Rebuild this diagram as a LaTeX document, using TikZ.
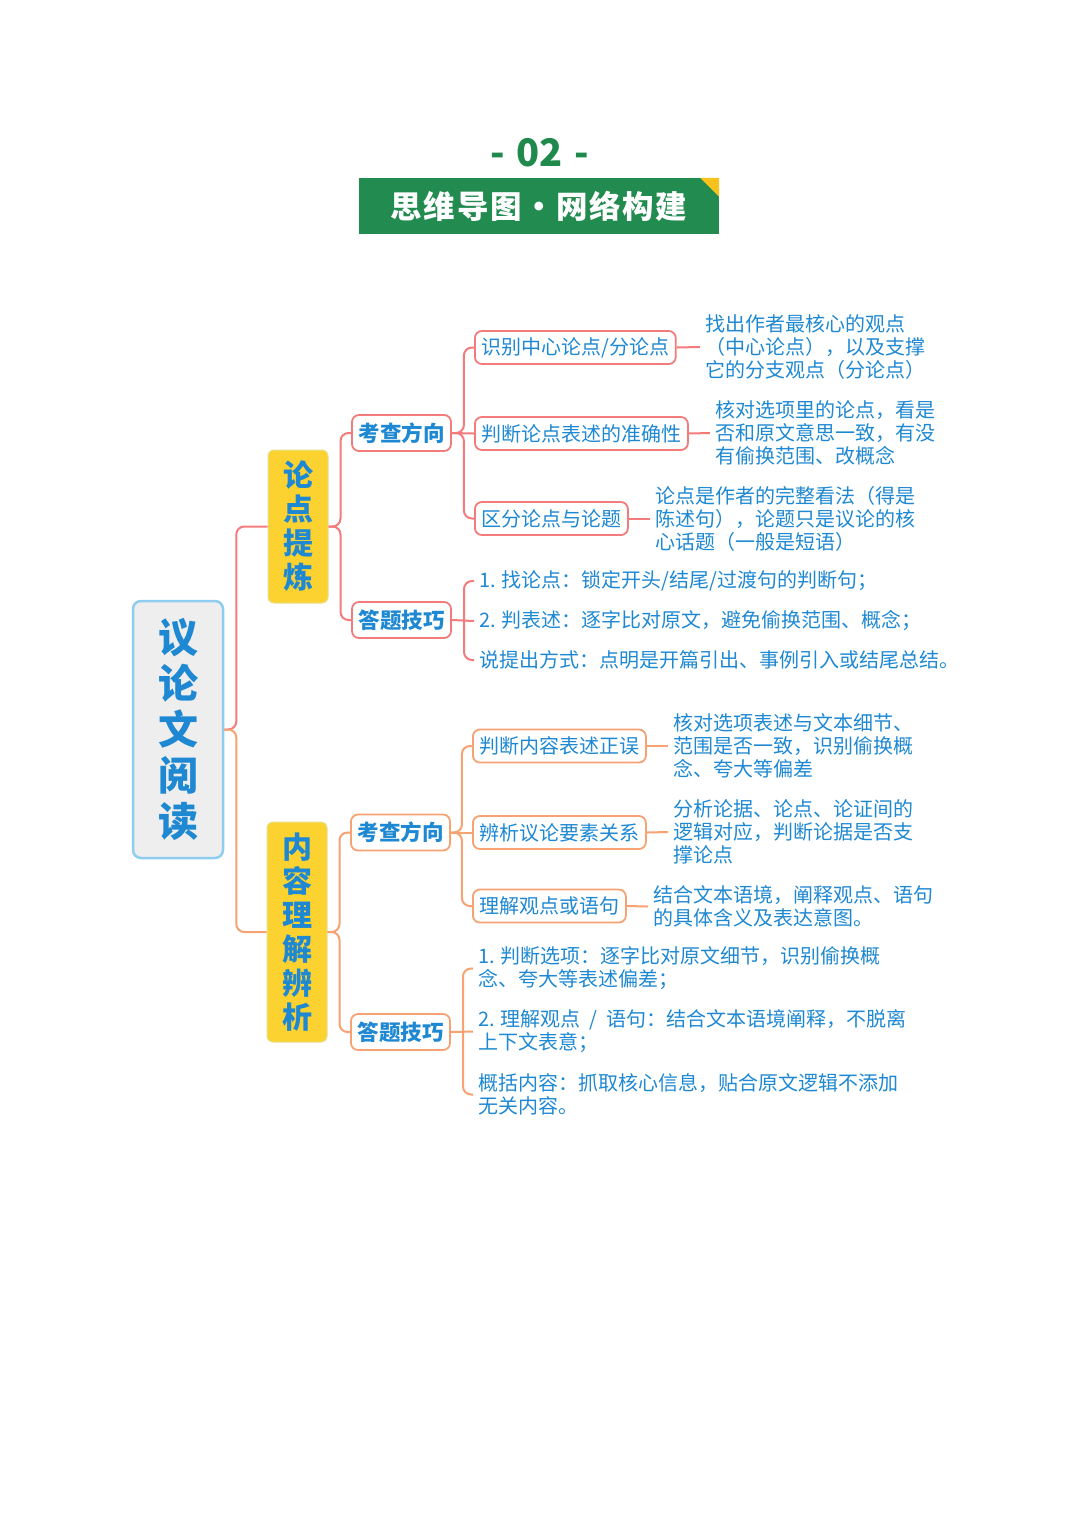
\documentclass[tikz,border=0pt]{standalone}
\usepackage{fontspec}
\setmainfont{Noto Sans CJK SC}
\usetikzlibrary{positioning}
\definecolor{txtblue}{HTML}{1E88D2}
\definecolor{cred}{HTML}{F37B7B}
\definecolor{corange}{HTML}{F6A273}
\definecolor{ylw}{HTML}{FCD230}
\definecolor{ylwborder}{HTML}{E6E08A}
\definecolor{bgreen}{HTML}{228B4F}
\definecolor{tgreen}{HTML}{1F8A4C}
\definecolor{rootfill}{HTML}{EEEEEE}
\definecolor{rootborder}{HTML}{8FCDF0}
\definecolor{cornerylw}{HTML}{F7C21B}
\tikzset{
  rootbox/.style={draw=rootborder, fill=rootfill, line width=2.5pt, rounded corners=8pt,
    minimum width=90pt, minimum height=257pt, align=center, text=txtblue,
    font=\bfseries\fontsize{40}{46}\selectfont, inner sep=0pt},
  yelbox/.style={draw=ylwborder, fill=ylw, line width=1pt, rounded corners=6pt,
    minimum width=60pt, align=center, text=txtblue,
    font=\bfseries\fontsize{30}{34}\selectfont, inner sep=0pt},
  lvtwo/.style={draw=#1, fill=white, line width=1.8pt, rounded corners=7pt,
    minimum height=36pt, inner xsep=6.5pt, inner ysep=0pt, text=txtblue,
    font=\bfseries\fontsize{21.5}{24}\selectfont},
  lvthree/.style={draw=#1, fill=white, line width=1.8pt, rounded corners=7pt,
    minimum height=33pt, inner xsep=6.5pt, inner ysep=0pt, text=txtblue,
    font=\fontsize{20}{23}\selectfont, anchor=west},
  desc/.style={align=left, text=txtblue, font=\fontsize{20}{23}\selectfont,
    inner xsep=5pt, inner ysep=0pt, anchor=west},
  conn/.style={draw=#1, line width=2pt, rounded corners=8pt},
}
\begin{document}
\begin{tikzpicture}[x=1pt,y=-1pt]
\useasboundingbox (0,0) rectangle (1080,1527);
% title
\node[font=\bfseries\fontsize{38}{40}\selectfont, text=tgreen] (num) at (540,153) {-\hspace{3pt} 02 \hspace{3pt}-};
\node[fill=bgreen, minimum width=360pt, minimum height=56pt, inner sep=0pt, text=white,
  font=\bfseries\fontsize{31.5}{34}\selectfont\addfontfeature{LetterSpace=5}] (banner) at (539,206) {思维导图・网络构建};
\fill[cornerylw] (banner.north east) -- ++(-19,0) -- ++(19,19) -- cycle;

% root and level 1
\node[rootbox] (root) at (178,729.5) {议\\论\\文\\阅\\读};
\node[yelbox, minimum height=153pt] (n1) at (298,526.5) {论\\点\\提\\炼};
\node[yelbox, minimum height=220pt] (n2) at (297,932) {内\\容\\理\\解\\辨\\析};
\draw[conn=cred] (root.east) -- ++(12,0) |- (n1.west);
\draw[conn=corange] (root.east) -- ++(12,0) |- (n2.west);

% level 2 upper
\node[lvtwo=cred] (k1) at (401.5,433) {考查方向};
\node[lvtwo=cred] (d1) at (401.5,620) {答题技巧};
\draw[conn=cred] (n1.east) -- ++(12,0) |- (k1.west);
\draw[conn=cred] (n1.east) -- ++(12,0) |- (d1.west);

% level 3 upper
\node[lvthree=cred] (a1) at (474,347.5) {识别中心论点/分论点};
\node[lvthree=cred] (a2) at (474,433.5) {判断论点表述的准确性};
\node[lvthree=cred] (a3) at (474,518.5) {区分论点与论题};
\draw[conn=cred] (k1.east) -- ++(12,0) |- (a1.west);
\draw[conn=cred] (k1.east) -- (a2.west);
\draw[conn=cred] (k1.east) -- ++(12,0) |- (a3.west);

\node[desc] (e1) at (700,347) {找出作者最核心的观点\\（中心论点），以及支撑\\它的分支观点（分论点）};
\node[desc] (e2) at (710,433) {核对选项里的论点，看是\\否和原文意思一致，有没\\有偷换范围、改概念};
\node[desc] (e3) at (650,518.5) {论点是作者的完整看法（得是\\陈述句），论题只是议论的核\\心话题（一般是短语）};
\draw[conn=cred] (a1.east) -- (e1.west);
\draw[conn=cred] (a2.east) -- (e2.west);
\draw[conn=cred] (a3.east) -- (e3.west);

\node[desc] (t1) at (474,581) {1. 找论点：锁定开头/结尾/过渡句的判断句；};
\node[desc] (t2) at (474,621) {2. 判表述：逐字比对原文，避免偷换范围、概念；};
\node[desc] (t3) at (474,660) {说提出方式：点明是开篇引出、事例引入或结尾总结。};
\draw[conn=cred] (t1.west) -- ++(-10,0) |- (t3.west);
\draw[conn=cred] (d1.east) -- (t2.west);

% level 2 lower
\node[lvtwo=corange] (k2) at (400.5,832.5) {考查方向};
\node[lvtwo=corange] (d2) at (400.5,1032) {答题技巧};
\draw[conn=corange] (n2.east) -- ++(12,0) |- (k2.west);
\draw[conn=corange] (n2.east) -- ++(12,0) |- (d2.west);

% level 3 lower
\node[lvthree=corange] (b1) at (472,746) {判断内容表述正误};
\node[lvthree=corange] (b2) at (472,832.5) {辨析议论要素关系};
\node[lvthree=corange] (b3) at (472,906) {理解观点或语句};
\draw[conn=corange] (k2.east) -- ++(11,0) |- (b1.west);
\draw[conn=corange] (k2.east) -- (b2.west);
\draw[conn=corange] (k2.east) -- ++(11,0) |- (b3.west);

\node[desc] (f1) at (668,746) {核对选项表述与文本细节、\\范围是否一致，识别偷换概\\念、夸大等偏差};
\node[desc] (f2) at (668,832) {分析论据、论点、论证间的\\逻辑对应，判断论据是否支\\撑论点};
\node[desc] (f3) at (648,906.5) {结合文本语境，阐释观点、语句\\的具体含义及表达意图。};
\draw[conn=corange] (b1.east) -- (f1.west);
\draw[conn=corange] (b2.east) -- (f2.west);
\draw[conn=corange] (b3.east) -- (f3.west);

\node[desc] (u1) at (473,968.5) {1. 判断选项：逐字比对原文细节，识别偷换概\\念、夸大等表述偏差；};
\node[desc] (u2) at (473,1031.5) {2. 理解观点 ~/~ 语句：结合文本语境阐释，不脱离\\上下文表意；};
\node[desc] (u3) at (473,1094.5) {概括内容：抓取核心信息，贴合原文逻辑不添加\\无关内容。};
\draw[conn=corange] (u1.west) -- ++(-10,0) |- (u3.west);
\draw[conn=corange] (d2.east) -- (u2.west);
\end{tikzpicture}
\end{document}
